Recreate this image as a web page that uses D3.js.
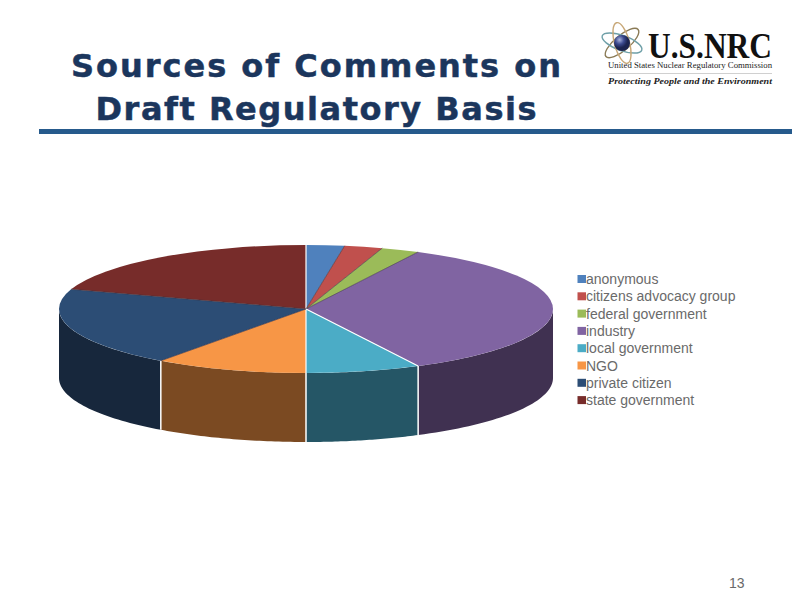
<!DOCTYPE html>
<html><head><meta charset="utf-8">
<script src="https://cdn.jsdelivr.net/npm/d3@7"></script>
<style>html,body{margin:0;background:#fff}svg{display:block}</style></head>
<body><svg id="c" width="792" height="612"></svg>
<script>
const titleLines = ["Sources of Comments on", "Draft Regulatory Basis"];
const categories = ["anonymous","citizens advocacy group","federal government","industry","local government","NGO","private citizen","state government"];
const values = [1,1,1,14,3,4,8,8];
const topColors = ["#4F81BD","#C0504D","#9BBB59","#8064A2","#4BACC6","#F79646","#2C4D75","#772C2A"];
const wallColors = ["#2A4665","#66292A","#536433","#403151","#255666","#7B4A22","#17273C","#3F1716"];
const pageNumber = "13";

const svg = d3.select("#c");
const cx=306, cy=309, rx=247, ry=64, depth=69;
const pt=(t,dy=0)=>[cx+rx*Math.sin(t), cy-ry*Math.cos(t)+dy];

// title
svg.append("g").selectAll("text").data(titleLines).join("text")
  .attr("x",316).attr("y",(d,i)=>77+i*43).attr("text-anchor","middle")
  .attr("font-family","'DejaVu Sans',sans-serif").attr("font-weight","bold")
  .attr("font-size",32).attr("fill","#1B365D").attr("stroke","#1B365D").attr("stroke-width",0.5).text(d=>d)
  .attr("textLength",(d,i)=>i==0?490:441).attr("lengthAdjust","spacing");
svg.append("rect").attr("x",39).attr("y",129).attr("width",753).attr("height",5).attr("fill","#265A8C");

// pie
const arcs=d3.pie().sort(null).value(d=>d)(values);
const line=d3.line();
const g=svg.append("g");
// walls: only the front half of the ellipse is visible
arcs.forEach((a,i)=>{
  const s=Math.max(a.startAngle,Math.PI/2), e=Math.min(a.endAngle,Math.PI*1.5);
  if(e<=s) return;
  const ts=d3.range(0,41).map(k=>s+(e-s)*k/40);
  const pts=ts.map(t=>pt(t)).concat(ts.slice().reverse().map(t=>pt(t,depth)));
  g.append("path").attr("d",line(pts)+"Z").attr("fill",wallColors[i]);
});
arcs.forEach((a,i)=>{
  if(a.startAngle>Math.PI/2&&a.startAngle<Math.PI*1.5){
    const p=pt(a.startAngle);
    g.append("line").attr("x1",p[0]).attr("y1",p[1]).attr("x2",p[0]).attr("y2",p[1]+depth).attr("stroke","#fff").attr("stroke-width",1.5);
  }
});
const unitArc=d3.arc().innerRadius(0).outerRadius(1);
const face=g.append("g").attr("transform",`translate(${cx},${cy}) scale(${rx},${ry})`);
face.selectAll("path").data(arcs).join("path").attr("d",unitArc).attr("fill",(d,i)=>topColors[i]);
arcs.forEach((a,i)=>{
  const p=pt(a.startAngle);
  const white=i==0||i==4||i==5;
  g.append("line").attr("x1",cx).attr("y1",cy).attr("x2",p[0]).attr("y2",p[1])
   .attr("stroke",white?"#fff":"#3a3040").attr("stroke-width",white?1.2:0.8).attr("stroke-opacity",white?1:0.75);
});

// legend
const lg=svg.append("g").selectAll("g").data(categories).join("g")
  .attr("transform",(d,i)=>`translate(577.5,${279+i*17.3})`);
lg.append("rect").attr("x",0).attr("y",-4).attr("width",8.5).attr("height",8).attr("fill",(d,i)=>topColors[i]);
lg.append("text").attr("x",8.5).attr("y",5).attr("font-family","'Liberation Sans',sans-serif")
  .attr("font-size",14).attr("fill","#6a6a6a").text(d=>d);

svg.append("text").attr("x",729).attr("y",588).attr("font-family","'Liberation Sans',sans-serif")
  .attr("font-size",14).attr("fill","#6a6a6a").text(pageNumber);

// logo
const logo=svg.append("g");
const atom=logo.append("g").attr("transform","translate(622,43)");
[[-40,"#8a7a55"],[20,"#6fa0a8"],[75,"#c8a878"]].forEach(([r,c])=>{
  atom.append("ellipse").attr("rx",21).attr("ry",7.5).attr("fill","none").attr("stroke",c).attr("stroke-width",1.4).attr("transform",`rotate(${r})`);
});
const gr=svg.append("defs").append("radialGradient").attr("id","ball").attr("cx","35%").attr("cy","30%");
gr.append("stop").attr("offset","0").attr("stop-color","#aab4dc");
gr.append("stop").attr("offset","0.55").attr("stop-color","#3c4a90");
gr.append("stop").attr("offset","1").attr("stop-color","#1c2450");
atom.append("circle").attr("r",8).attr("fill","url(#ball)");
logo.append("text").attr("x",648).attr("y",58).attr("font-family","'Liberation Serif',serif").attr("font-weight","bold")
  .attr("font-size",36).attr("fill","#111").attr("textLength",124).attr("lengthAdjust","spacingAndGlyphs").text("U.S.NRC");
logo.append("text").attr("x",608).attr("y",68).attr("font-family","'Liberation Serif',serif")
  .attr("font-size",7.5).attr("fill","#222").attr("textLength",164).attr("lengthAdjust","spacingAndGlyphs").text("United States Nuclear Regulatory Commission");
logo.append("line").attr("x1",608).attr("x2",772).attr("y1",73.5).attr("y2",73.5).attr("stroke","#bbb").attr("stroke-width",.7);
logo.append("text").attr("x",608).attr("y",84).attr("font-family","'Liberation Serif',serif").attr("font-weight","bold").attr("font-style","italic")
  .attr("font-size",9).attr("fill","#222").attr("textLength",164).attr("lengthAdjust","spacingAndGlyphs").text("Protecting People and the Environment");
</script></body></html>
